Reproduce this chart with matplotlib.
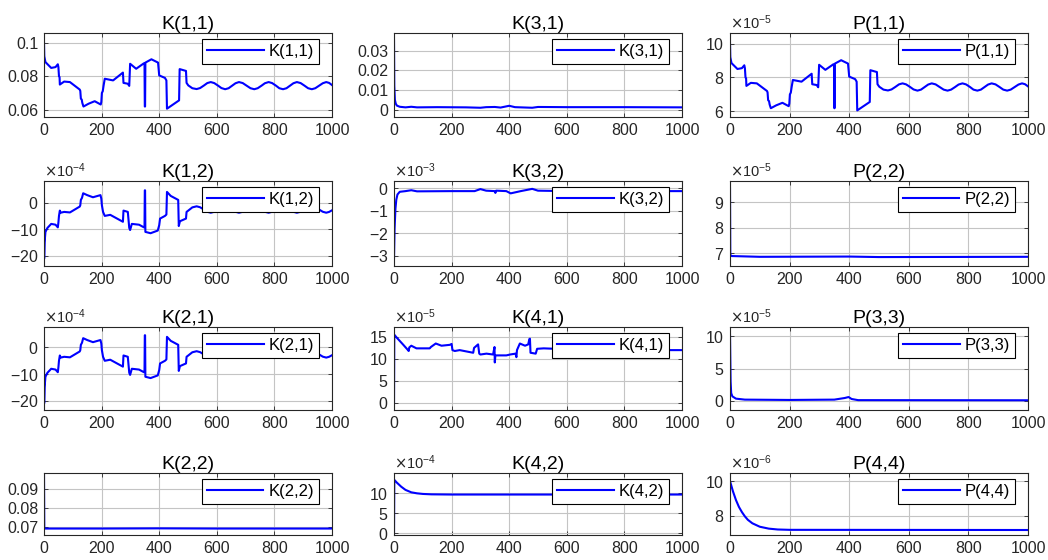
import numpy as np
import matplotlib
matplotlib.use('Agg')
import matplotlib.pyplot as plt
from matplotlib.ticker import ScalarFormatter, FuncFormatter
from matplotlib.transforms import ScaledTranslation

plt.rcParams['font.family'] = ['Liberation Sans', 'DejaVu Sans']
plt.rcParams['axes.unicode_minus'] = False

# ---------------------------------------------------------------- gains / covariances
# K(1,1) and P(1,1) share the same step instants
k11_t = [0, 1, 5, 25, 40, 48, 50, 52, 54, 55, 70, 90, 124, 126, 128, 131, 133, 137, 155, 176,
         197, 199, 201, 204, 207, 211, 240, 274, 276, 291, 296, 299, 320, 347, 349, 350, 351, 352,
         373, 396, 400, 420, 425, 427, 469, 471, 493, 495, 501,
         515, 530, 542, 555, 567, 579, 591, 604, 616, 629, 641, 653, 665, 677, 690, 703, 717,
         730, 742, 755, 767, 780, 792, 805, 817, 830, 842, 854, 866, 878, 891, 904, 917,
         930, 942, 955, 968, 980, 990, 1000]
k11 = [0.100, 0.092, 0.0885, 0.085, 0.0855, 0.0872, 0.0855, 0.080, 0.0795, 0.075, 0.0768, 0.0765,
       0.072, 0.0712, 0.0665, 0.066, 0.064, 0.0618, 0.0635, 0.065,
       0.063, 0.0645, 0.070, 0.071, 0.0745, 0.0785, 0.0775, 0.0822, 0.076, 0.0755, 0.0742, 0.0875,
       0.0845, 0.0878, 0.0875, 0.0618, 0.0618, 0.0882,
       0.0902, 0.0882, 0.0805, 0.079, 0.0775, 0.0605, 0.0655, 0.0843, 0.0832, 0.0760, 0.0745,
       0.0728, 0.0723, 0.0729, 0.0744, 0.0759, 0.0765, 0.0759, 0.0744, 0.0729, 0.0722, 0.0728,
       0.0743, 0.0758, 0.0765, 0.0759, 0.0744, 0.0728,
       0.0722, 0.0728, 0.0743, 0.0758, 0.0765, 0.0759, 0.0744, 0.0728, 0.0722, 0.0728, 0.0743,
       0.0758, 0.0765, 0.0759, 0.0744, 0.0728,
       0.0722, 0.0728, 0.0743, 0.0758, 0.0765, 0.0760, 0.0747]

p11_t = k11_t
p11 = [10.0, 9.2, 8.85, 8.5, 8.55, 8.72, 8.55, 8.0, 7.95, 7.5, 7.68, 7.65,
       7.2, 7.12, 6.65, 6.6, 6.4, 6.18, 6.35, 6.5,
       6.3, 6.45, 7.0, 7.1, 7.45, 7.85, 7.75, 8.22, 7.6, 7.55, 7.42, 8.75,
       8.45, 8.78, 8.75, 6.18, 6.18, 8.82,
       9.02, 8.82, 8.05, 7.9, 7.75, 6.05, 6.55, 8.43, 8.32, 7.60, 7.45,
       7.28, 7.23, 7.29, 7.44, 7.59, 7.65, 7.59, 7.44, 7.29, 7.22, 7.28,
       7.43, 7.58, 7.65, 7.59, 7.44, 7.28,
       7.22, 7.28, 7.43, 7.58, 7.65, 7.59, 7.44, 7.28, 7.22, 7.28, 7.43,
       7.58, 7.65, 7.59, 7.44, 7.28,
       7.22, 7.28, 7.43, 7.58, 7.65, 7.60, 7.47]  # x1e-5

# K(1,2) and K(2,1) (x1e-4)
k12_t = [0, 0.5, 2, 5, 12, 25, 40, 48, 50, 52, 55, 58, 70, 90, 124, 126, 128, 132, 136, 150,
         170, 196, 199, 201, 205, 211, 230, 274, 276, 291, 296, 299, 305, 330, 347, 349, 350, 351,
         352, 370, 395, 400, 403, 420, 425, 427, 440, 466, 468, 472, 493, 495, 501, 515,
         530, 542, 555, 567, 579, 591, 604, 616, 629, 641, 653, 665, 677, 690, 703, 717,
         730, 742, 755, 767, 780, 792, 805, 817, 830, 842, 854, 866, 878, 891, 904, 917,
         930, 942, 955, 968, 980, 990, 1000]
k12 = [1.5, -21, -15, -11, -9.5, -8.0, -8.3, -9.3, -7.5, -5.0, -3.0, -3.8, -3.5, -3.7, -1.5, -1.0,
       1.0, 1.8, 3.5, 2.8,
       2.0, 2.8, 1.5, -1.0, -3.5, -5.0, -4.6, -7.2, -3.0, -3.5, -9.5, -10.3, -8.0, -8.3, -9.3, -9.0,
       4.6, 4.6,
       -11.0, -11.5, -10.5, -8.5, -6.0, -5.0, -4.5, 4.0, 2.5, 1.0, -8.8, -7.0, -6.0, -3.5, -3.0, -1.8,
       -1.4, -1.75, -2.6, -3.45, -3.8, -3.45, -2.6, -1.75, -1.4, -1.75, -2.6, -3.45, -3.8, -3.45,
       -2.6, -1.75,
       -1.4, -1.75, -2.6, -3.45, -3.8, -3.45, -2.6, -1.75, -1.4, -1.75, -2.6, -3.45, -3.8, -3.45,
       -2.6, -1.75,
       -1.4, -1.75, -2.6, -3.45, -3.8, -3.5, -2.9]

k21_t = k12_t
k21 = [1.5, -21, -15, -11, -9.5, -8.0, -8.3, -9.3, -7.5, -5.0, -3.0, -3.8, -3.5, -3.7, -1.5, -1.0,
       1.0, 1.8, 3.5, 2.8,
       2.0, 2.8, 1.5, -1.0, -3.5, -5.0, -4.6, -7.2, -3.0, -3.5, -9.5, -10.3, -8.0, -8.3, -9.3, -9.0,
       4.6, 4.6,
       -11.0, -11.5, -10.5, -8.5, -6.0, -5.0, -4.5, 4.0, 2.5, 1.0, -8.8, -7.0, -6.0, -3.5, -3.0, -1.8,
       -1.4, -1.75, -2.6, -3.45, -3.8, -3.45, -2.6, -1.75, -1.4, -1.75, -2.6, -3.45, -3.8, -3.45,
       -2.6, -1.75,
       -1.4, -1.75, -2.6, -3.45, -3.8, -3.45, -2.6, -1.75, -1.4, -1.75, -2.6, -3.45, -3.8, -3.45,
       -2.6, -1.75,
       -1.4, -1.75, -2.6, -3.45, -3.8, -3.5, -2.9]

k31_t = [0, 1, 3, 6, 10, 20, 40, 60, 80, 150, 250, 300, 320, 350, 370, 400, 420, 480, 500, 600,
         800, 1000]
k31 = [0.035, 0.012, 0.005, 0.003, 0.002, 0.0014, 0.0011, 0.0014, 0.0011, 0.0012, 0.0011, 0.0009,
       0.0012, 0.0013, 0.0010, 0.0019, 0.0012, 0.0009, 0.0013, 0.0012, 0.0012, 0.0011]

k32_t = [0, 2, 5, 8, 12, 20, 40, 60, 80, 200, 280, 300, 320, 350, 352, 355, 390, 405, 440, 480,
         500, 600, 1000]
k32 = [-3.1, -1.8, -0.9, -0.5, -0.27, -0.15, -0.12, -0.08, -0.13, -0.12, -0.12, -0.03, -0.1, -0.12,
       -0.2, -0.1, -0.12, -0.22, -0.12, -0.02, -0.1, -0.12, -0.12]  # x1e-3

k41_t = [0, 1, 10, 31, 46, 51, 53, 60, 78, 124, 128, 145, 165, 194, 200, 203, 211, 228, 275, 278,
         292, 296, 300, 321, 344, 349, 350, 352, 390, 403, 422, 425, 427, 437, 455, 466, 470, 472,
         474, 492, 497, 520, 600, 700, 800, 900, 960, 1000]
k41 = [0, 15.5, 14.8, 13.3, 12.2, 11.8, 12.6, 13.0, 12.4, 12.4, 12.7, 13.5, 13.0, 13.2, 13.4, 12.0,
       11.8, 12.0, 11.4, 12.5,
       13.3, 11.2, 11.0, 11.2, 11.0, 12.7, 9.2, 10.8, 10.8, 11.0, 11.2, 10.4, 12.0, 13.5, 13.0, 13.3,
       14.5, 14.6,
       11.4, 11.2, 12.3, 12.4, 12.2, 12.4, 12.2, 12.3, 12.0, 12.0]  # x1e-5

k22_t = [0, 1, 200, 400, 600, 1000]
k22 = [0.0975, 0.0694, 0.0694, 0.0695, 0.0694, 0.0694]

k42_t = [0, 1, 10, 25, 40, 60, 80, 100, 130, 200, 1000]
k42 = [0, 13.3, 12.6, 11.6, 10.8, 10.2, 9.95, 9.8, 9.7, 9.65, 9.65]  # x1e-4

p22_t = [0, 1, 5, 100, 400, 500, 1000]
p22 = [9.55, 6.95, 6.9, 6.87, 6.88, 6.86, 6.87]  # x1e-5

p33_t = [0, 2, 4, 8, 20, 50, 200, 350, 385, 398, 408, 430, 1000]
p33 = [10.2, 3.0, 1.2, 0.7, 0.35, 0.2, 0.15, 0.2, 0.45, 0.6, 0.3, 0.12, 0.1]  # x1e-5

p44_t = [0, 10, 20, 30, 40, 50, 60, 75, 100, 130, 160, 200, 1000]
p44 = [10.0, 9.4, 8.9, 8.5, 8.2, 7.95, 7.75, 7.55, 7.35, 7.24, 7.19, 7.17, 7.16]  # x1e-6

x_ticks = [0, 200, 400, 600, 800, 1000]

# ---------------------------------------------------------------- layout (pixels)
W, H = 1048, 560
col_px = [(44, 332), (394, 682), (730, 1028)]
row_px = [(33, 117), (181, 266), (327, 410), (473, 535)]

# name, t, values, exponent (None = plain), ylim, yticks   (ylim/yticks in display units)
panels = [
    ('K(1,1)', k11_t, k11, None, (0.0555, 0.106), [0.06, 0.08, 0.1]),
    ('K(3,1)', k31_t, k31, None, (-0.0038, 0.0389), [0, 0.01, 0.02, 0.03]),
    ('P(1,1)', p11_t, p11, -5, (5.66, 10.63), [6, 8, 10]),
    ('K(1,2)', k12_t, k12, -4, (-23.8, 8.1), [-20, -10, 0]),
    ('K(3,2)', k32_t, k32, -3, (-3.45, 0.33), [-3, -2, -1, 0]),
    ('P(2,2)', p22_t, p22, -5, (6.51, 9.84), [7, 8, 9]),
    ('K(2,1)', k21_t, k21, -4, (-23.5, 7.7), [-20, -10, 0]),
    ('K(4,1)', k41_t, k41, -5, (-1.6, 17.25), [0, 5, 10, 15]),
    ('P(3,3)', p33_t, p33, -5, (-1.4, 11.4), [0, 5, 10]),
    ('K(2,2)', k22_t, k22, None, (0.066, 0.0987), [0.07, 0.08, 0.09]),
    ('K(4,2)', k42_t, k42, -4, (-0.4, 15.0), [0, 5, 10]),
    ('P(4,4)', p44_t, p44, -6, (6.87, 10.47), [8, 10]),
]

ink = '#262626'
fig = plt.figure(figsize=(W / 100, H / 100), dpi=100)

for i, (name, t, vals, expo, ylim, yticks) in enumerate(panels):
    r, c = divmod(i, 3)
    x0, x1 = col_px[c]
    y0, y1 = row_px[r]
    ax = fig.add_axes([x0 / W, 1 - y1 / H, (x1 - x0) / W, (y1 - y0) / H])

    scale = 1.0 if expo is None else 10.0 ** expo
    ax.plot(np.array(t), np.array(vals) * scale, color='#0000ff', lw=1.5, label=name)

    ax.set_xlim(0, 1000)
    ax.set_xticks(x_ticks)
    ax.set_ylim(ylim[0] * scale, ylim[1] * scale)
    ax.set_yticks(np.array(yticks) * scale)

    if expo is None:
        ax.yaxis.set_major_formatter(FuncFormatter(lambda v, p: '%g' % round(v, 6)))
    else:
        fmt = ScalarFormatter(useMathText=True)
        fmt.set_powerlimits((expo, expo))
        fmt.set_useOffset(False)
        ax.yaxis.set_major_formatter(fmt)
        ax.yaxis.get_offset_text().set_fontsize(10.5)
        ax.yaxis.get_offset_text().set_color(ink)

    ax.grid(True, color='#c4c4c4', lw=0.8)
    ax.set_axisbelow(True)
    ax.tick_params(direction='in', top=True, right=True, length=3, width=0.6,
                   labelsize=11.5, colors=ink, pad=4)
    for sp in ax.spines.values():
        sp.set_color(ink)
        sp.set_linewidth(0.8)

    ax.set_title(name, fontsize=14, color='black', pad=3)

    offset = ax.transAxes + ScaledTranslation(-0.13, -0.06, fig.dpi_scale_trans)
    leg = ax.legend(loc='upper right', bbox_to_anchor=(1, 1), bbox_transform=offset,
                    borderaxespad=0, fontsize=12, handlelength=3.4, handletextpad=0.3,
                    borderpad=0.3, fancybox=False, framealpha=1, edgecolor='black')
    leg.get_frame().set_linewidth(0.8)

fig.savefig('out.png', dpi=100)
